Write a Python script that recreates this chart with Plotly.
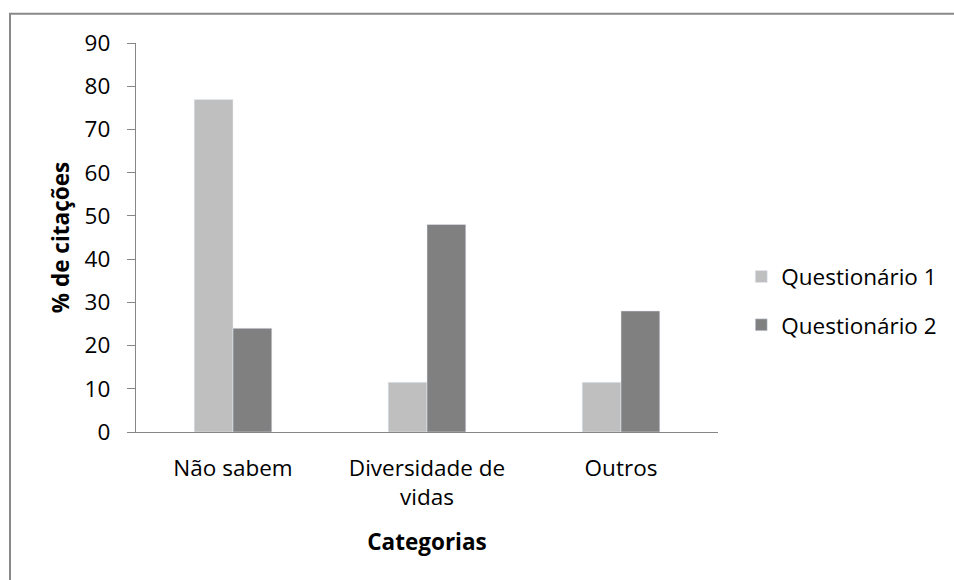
import plotly.graph_objects as go

# Categories and the share of citations per questionnaire
categorias = ["Não sabem", "Diversidade de vidas", "Outros"]
rotulos = ["Não sabem", "Diversidade de<br>vidas", "Outros"]
questionario_1 = [76.9, 11.5, 11.5]
questionario_2 = [24, 48, 28]
y_ticks = [0, 10, 20, 30, 40, 50, 60, 70, 80, 90]

FONT = "Open Sans"
FS = 22.5
AXIS_GRAY = "#868686"

fig = go.Figure()
fig.add_trace(go.Bar(
    x=categorias, y=questionario_1, name="Questionário 1",
    marker=dict(color="#BFBFBF"), legendgroup="q1",
))
fig.add_trace(go.Bar(
    x=categorias, y=questionario_2, name="Questionário 2",
    marker=dict(color="#808080"), legendgroup="q2",
))

fig.update_layout(
    width=954, height=580,
    margin=dict(l=136, r=236, t=43, b=148),
    paper_bgcolor="white", plot_bgcolor="white",
    font=dict(family=FONT, size=FS, color="#000000"),
    barmode="group", bargap=0.6, bargroupgap=0,
    showlegend=True,
    legend=dict(
        x=1.04, y=0.337, xanchor="left", yanchor="middle",
        traceorder="grouped", tracegroupgap=16,
        font=dict(family=FONT, size=FS, color="#000000"),
        bgcolor="rgba(0,0,0,0)",
    ),
    xaxis=dict(
        tickmode="array", tickvals=categorias, ticktext=rotulos,
        showline=True, linecolor=AXIS_GRAY, linewidth=1.3,
        ticks="", showgrid=False, zeroline=False,
        ticklabelstandoff=16,
        tickfont=dict(family=FONT, size=FS),
        title=dict(text="<b>Categorias</b>", standoff=22,
                   font=dict(family=FONT, size=FS)),
    ),
    yaxis=dict(
        range=[0, 90], tickmode="array", tickvals=y_ticks,
        showline=True, linecolor=AXIS_GRAY, linewidth=1.3,
        ticks="outside", ticklen=8, tickcolor=AXIS_GRAY, tickwidth=1.3,
        showgrid=False, zeroline=False,
        ticklabelstandoff=12,
        tickfont=dict(family=FONT, size=FS),
        title=dict(text="<b>% de citações</b>", standoff=8,
                   font=dict(family=FONT, size=FS)),
    ),
    shapes=[
        # chart-area frame (runs off the right and bottom edges)
        dict(type="rect", xref="paper", yref="paper",
             x0=-0.2165, x1=1.6, y0=-0.6, y1=1.0755,
             line=dict(color="#898989", width=2), layer="below"),
    ],
)

fig.write_html("out.html")
